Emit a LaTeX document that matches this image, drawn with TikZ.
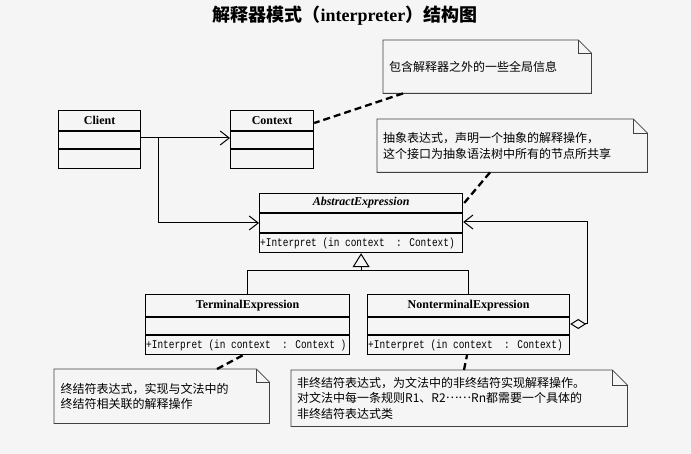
\documentclass[tikz,border=0pt]{standalone}
\usepackage{fontspec}
\setmainfont{Liberation Serif}
\newfontfamily\cjk{Noto Sans CJK SC}
\newfontfamily\methfont[FakeStretch=0.8]{Liberation Mono}
\usetikzlibrary{arrows.meta,calc}
\newcommand\notefold[2]{%
  \draw[noteline] (#1.north west) -- ($(#1.north east)+(-#2,0)$) -- ($(#1.north east)+(0,#2)$) -- (#1.south east) -- (#1.south west) -- cycle;
  \draw[noteline] ($(#1.north east)+(-#2,0)$) -- ($(#1.north east)+(-#2,#2)$) -- ($(#1.north east)+(0,#2)$);}
\begin{document}
\begin{tikzpicture}[x=1pt,y=-1pt,
  classbox/.style={draw, line width=1.2pt, inner sep=0pt, anchor=north west},
  classline/.style={line width=1.2pt},
  cname/.style={font=\bfseries\fontsize{12}{14}\selectfont, inner sep=0pt},
  meth/.style={font=\methfont\fontsize{11.8}{13}\selectfont, inner sep=0pt, anchor=west},
  note/.style={anchor=north west, inner xsep=6pt, inner ysep=0pt, align=left, font=\cjk\fontsize{12}{15.5}\selectfont},
  noteline/.style={draw=black!75, line width=0.8pt},
  notelink/.style={dash pattern=on 7pt off 4pt, line width=2.3pt},
  assoc/.style={line width=1pt, -{Straight Barb[length=9pt,width=14pt]}},
  genline/.style={line width=1pt}
]
\useasboundingbox (0,0) rectangle (691,454);
\fill[black!4] (0,0) rectangle (691,454);

% title
\node[font=\cjk\bfseries\fontsize{18}{18}\selectfont, inner sep=0pt] (title) at (345,16) {解释器模式（{\rmfamily\bfseries interpreter}）结构图};

% Client
\node[classbox, minimum width=82pt, minimum height=58pt] (client) at (58,110) {};
\node[cname] (clientname) at ($(client.north)+(0,10.5)$) {Client};
\draw[classline] ($(client.north west)+(0,21)$) -- ($(client.north east)+(0,21)$);
\draw[classline] ($(client.north west)+(0,39)$) -- ($(client.north east)+(0,39)$);

% Context
\node[classbox, minimum width=83pt, minimum height=58pt] (context) at (230,110) {};
\node[cname] (contextname) at ($(context.north)+(0,10.5)$) {Context};
\draw[classline] ($(context.north west)+(0,21)$) -- ($(context.north east)+(0,21)$);
\draw[classline] ($(context.north west)+(0,39)$) -- ($(context.north east)+(0,39)$);

% AbstractExpression
\node[classbox, minimum width=203pt, minimum height=59pt] (abs) at (259,193) {};
\node[cname, font=\bfseries\itshape\fontsize{12}{14}\selectfont] (absname) at ($(abs.north)+(0,10)$) {AbstractExpression};
\draw[classline] ($(abs.north west)+(0,20)$) -- ($(abs.north east)+(0,20)$);
\draw[classline] ($(abs.north west)+(0,40)$) -- ($(abs.north east)+(0,40)$);
\node[meth] (absop) at ($(abs.south west)+(1,-9.5)$) {+Interpret (in context\ \ : Context)};

% TerminalExpression
\node[classbox, minimum width=204pt, minimum height=60pt] (term) at (145,294) {};
\node[cname] (termname) at ($(term.north)+(0,11.5)$) {TerminalExpression};
\draw[classline] ($(term.north west)+(0,23)$) -- ($(term.north east)+(0,23)$);
\draw[classline] ($(term.north west)+(0,41)$) -- ($(term.north east)+(0,41)$);
\node[meth] (termop) at ($(term.south west)+(1,-9.5)$) {+Interpret (in context\ \ : Context )};

% NonterminalExpression
\node[classbox, minimum width=202pt, minimum height=60pt] (nonterm) at (367,294) {};
\node[cname] (nontermname) at ($(nonterm.north)+(0,11.5)$) {NonterminalExpression};
\draw[classline] ($(nonterm.north west)+(0,23)$) -- ($(nonterm.north east)+(0,23)$);
\draw[classline] ($(nonterm.north west)+(0,41)$) -- ($(nonterm.north east)+(0,41)$);
\node[meth] (nontermop) at ($(nonterm.south west)+(1,-9.5)$) {+Interpret (in context\ \ : Context)};

% associations
\draw[assoc] ($(client.north east)+(0,28)$) -- ($(context.north west)+(0,28)$);
\coordinate (br) at ($(client.north east)+(17,28)$);
\draw[assoc] (br) |- ($(abs.north west)+(0,30)$);

% aggregation
\draw[line width=1pt, {Diamond[open,length=16pt,width=10pt]}-{Straight Barb[length=9pt,width=14pt]}]
  ($(nonterm.north east)+(0,30)$) -- ++(17,0) |- ($(abs.north east)+(0,29)$);

% generalization
\coordinate (gj) at ($(abs.south)+(0,17)$);
\draw[genline, -{Triangle[open,length=14pt,width=17pt]}] (gj) -- (abs.south);
\draw[genline] (term.north) |- (gj) -| (nonterm.north);

% notes
\node[note, minimum width=208pt, minimum height=53pt, text width=196pt] (n1) at (383,40) {包含解释器之外的一些全局信息};
\notefold{n1}{13}
\node[note, minimum width=270pt, minimum height=53pt, text width=258pt] (n2) at (377,119) {抽象表达式，声明一个抽象的解释操作，\\这个接口为抽象语法树中所有的节点所共享};
\notefold{n2}{14}
\node[note, minimum width=215pt, minimum height=54pt, text width=202pt] (n3) at (54,369) {终结符表达式，实现与文法中的\\终结符相关联的解释操作};
\notefold{n3}{13}
\node[note, minimum width=336pt, minimum height=56pt, text width=324pt] (n4) at (291,370) {非终结符表达式，为文法中的非终结符实现解释操作。\\对文法中每一条规则R1、R2\raisebox{0.33em}{……}Rn都需要一个具体的\\非终结符表达式类};
\notefold{n4}{15}

% note links
\draw[notelink] ($(n1.south west)+(20,0)$) -- ($(context.north east)+(0,13)$);
\draw[notelink] ($(n2.south west)+(113,0)$) -- ($(abs.north east)+(1,10)$);
\draw[notelink] ($(n3.north west)+(163,0)$) -- ($(term.south west)+(98,0)$);
\draw[notelink] ($(n4.north west)+(173,0)$) -- ($(nonterm.south west)+(100,0)$);
\end{tikzpicture}
\end{document}
